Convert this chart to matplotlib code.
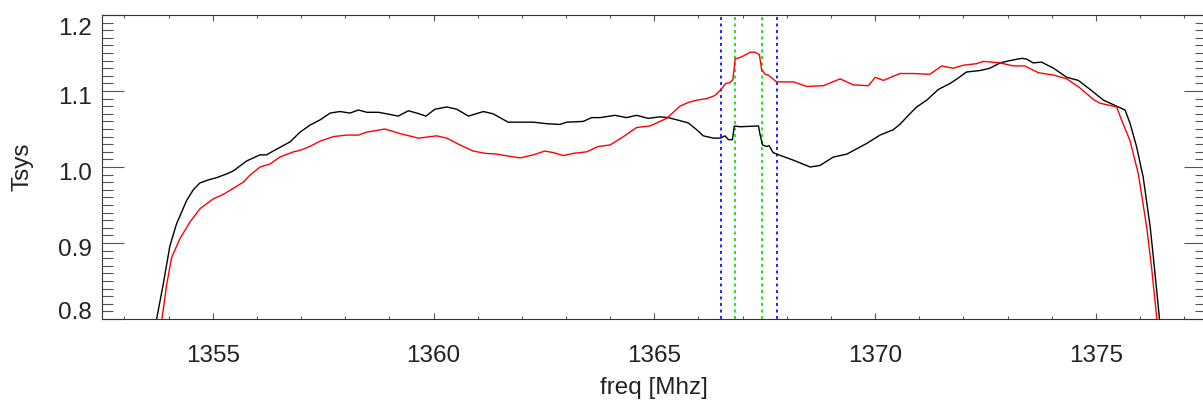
import numpy as np
import matplotlib.pyplot as plt
import matplotlib.transforms as mtransforms
from matplotlib.ticker import MultipleLocator

# Tsys bandpass, polarisation 1 (black)
freq_black = [1353.57, 1353.73, 1353.88, 1354.03, 1354.18, 1354.41, 1354.56, 1354.71,
              1354.90, 1355.09, 1355.32, 1355.47, 1355.77, 1356.07, 1356.22, 1356.37,
              1356.75, 1356.98, 1357.20, 1357.43, 1357.66, 1357.88, 1358.11, 1358.30,
              1358.49, 1358.75, 1358.94, 1359.20, 1359.43, 1359.62, 1359.83, 1360.03,
              1360.30, 1360.53, 1360.79, 1361.13, 1361.35, 1361.69, 1362.26, 1362.56,
              1362.86, 1363.02, 1363.39, 1363.58, 1363.77, 1364.11, 1364.37, 1364.60,
              1364.86, 1365.13, 1365.32, 1365.58, 1365.77, 1365.96, 1366.11, 1366.34,
              1366.50, 1366.60, 1366.68, 1366.77, 1366.81, 1366.94, 1367.36, 1367.39,
              1367.45, 1367.55, 1367.60, 1367.69, 1367.77, 1368.15, 1368.53, 1368.75,
              1369.05, 1369.36, 1369.81, 1370.11, 1370.41, 1370.56, 1370.72, 1370.94,
              1371.17, 1371.43, 1371.70, 1371.88, 1372.07, 1372.38, 1372.60, 1372.83,
              1373.05, 1373.32, 1373.43, 1373.58, 1373.77, 1374.04, 1374.34, 1374.60,
              1374.87, 1375.17, 1375.47, 1375.66, 1375.77, 1375.92, 1376.07, 1376.23,
              1376.34, 1376.44, 1376.50]
tsys_black = [0.749, 0.800, 0.846, 0.896, 0.925, 0.956, 0.970, 0.979,
              0.983, 0.986, 0.991, 0.995, 1.008, 1.016, 1.016, 1.021,
              1.033, 1.046, 1.055, 1.062, 1.071, 1.073, 1.071, 1.075,
              1.072, 1.072, 1.070, 1.067, 1.074, 1.071, 1.067, 1.076,
              1.079, 1.076, 1.067, 1.073, 1.070, 1.059, 1.059, 1.057,
              1.056, 1.059, 1.060, 1.065, 1.065, 1.068, 1.065, 1.068,
              1.064, 1.066, 1.065, 1.061, 1.058, 1.049, 1.041, 1.038,
              1.038, 1.041, 1.036, 1.036, 1.054, 1.053, 1.054, 1.044,
              1.029, 1.027, 1.028, 1.019, 1.017, 1.009, 1.000, 1.002,
              1.013, 1.017, 1.031, 1.042, 1.049, 1.056, 1.066, 1.079,
              1.088, 1.102, 1.110, 1.117, 1.125, 1.127, 1.130, 1.137,
              1.140, 1.143, 1.142, 1.137, 1.138, 1.130, 1.118, 1.114,
              1.102, 1.088, 1.080, 1.075, 1.058, 1.027, 0.987, 0.921,
              0.859, 0.800, 0.749]

# Tsys bandpass, polarisation 2 (red)
freq_red = [1353.72, 1353.85, 1353.96, 1354.07, 1354.26, 1354.49, 1354.71, 1355.01,
            1355.24, 1355.47, 1355.69, 1355.84, 1356.07, 1356.30, 1356.52, 1356.83,
            1356.98, 1357.20, 1357.43, 1357.73, 1358.03, 1358.30, 1358.49, 1358.90,
            1359.24, 1359.66, 1360.07, 1360.30, 1360.60, 1360.90, 1361.17, 1361.43,
            1361.73, 1361.96, 1362.26, 1362.52, 1362.71, 1362.94, 1363.17, 1363.47,
            1363.73, 1364.00, 1364.30, 1364.60, 1364.90, 1365.28, 1365.58, 1365.77,
            1365.96, 1366.19, 1366.37, 1366.51, 1366.62, 1366.71, 1366.78, 1366.83,
            1366.98, 1367.17, 1367.28, 1367.38, 1367.43, 1367.51, 1367.58, 1367.77,
            1368.15, 1368.45, 1368.83, 1369.21, 1369.51, 1369.85, 1370.00, 1370.19,
            1370.56, 1370.87, 1371.24, 1371.51, 1371.77, 1372.00, 1372.30, 1372.45,
            1372.83, 1373.13, 1373.39, 1373.70, 1374.04, 1374.34, 1374.64, 1374.94,
            1375.09, 1375.47, 1375.58, 1375.77, 1375.96, 1376.15, 1376.26, 1376.38,
            1376.44]
tsys_red = [0.749, 0.800, 0.846, 0.881, 0.906, 0.928, 0.945, 0.958,
            0.964, 0.972, 0.980, 0.989, 1.000, 1.004, 1.013, 1.020,
            1.022, 1.027, 1.034, 1.040, 1.042, 1.042, 1.046, 1.050,
            1.044, 1.038, 1.041, 1.038, 1.029, 1.021, 1.018, 1.017,
            1.014, 1.012, 1.016, 1.021, 1.019, 1.015, 1.018, 1.020,
            1.027, 1.029, 1.040, 1.052, 1.054, 1.064, 1.080, 1.085,
            1.088, 1.090, 1.094, 1.102, 1.110, 1.111, 1.115, 1.142,
            1.145, 1.151, 1.151, 1.148, 1.128, 1.122, 1.121, 1.112,
            1.112, 1.106, 1.107, 1.116, 1.108, 1.107, 1.118, 1.114,
            1.123, 1.123, 1.122, 1.133, 1.130, 1.134, 1.136, 1.139,
            1.137, 1.133, 1.133, 1.124, 1.121, 1.116, 1.104, 1.089,
            1.084, 1.079, 1.062, 1.035, 0.991, 0.921, 0.868, 0.800,
            0.749]

# window markers
outer_lines = [1366.51, 1367.77]
inner_lines = [1366.82, 1367.45]

plt.rcParams['font.family'] = ['Liberation Sans', 'DejaVu Sans']
txt_col = '#222222'
fs = 17.5

fig = plt.figure(figsize=(12.03, 4.07), dpi=100)
ax = fig.add_axes([0.08504, 0.2162, 0.91771, 0.7469])

for x in outer_lines:
    ax.axvline(x, color='#0000ff', lw=1.2, ls=(0, (1.8, 2.1)))
for x in inner_lines:
    ax.axvline(x, color='#00dd00', lw=1.2, ls=(0, (1.8, 2.1)))
ax.plot(freq_black, tsys_black, color='black', lw=1.0)
ax.plot(freq_red, tsys_red, color='#ff0000', lw=1.0)

ax.set_xlim(1352.5, 1377.5)
ax.set_ylim(0.8, 1.2)
ax.xaxis.set_major_locator(MultipleLocator(5))
ax.xaxis.set_minor_locator(MultipleLocator(1))
ax.set_yticks([0.8, 0.9, 1.0, 1.1, 1.2])
ax.set_yticklabels(['0.8', '0.9', '1.0', '1.1', '1.2'])
ax.yaxis.set_minor_locator(MultipleLocator(0.01))

ax.tick_params(axis='both', which='both', direction='in', color='#555555',
               width=0.8, labelsize=fs, labelcolor=txt_col)
ax.tick_params(axis='x', which='both', top=True, pad=18.7)
ax.tick_params(axis='x', which='major', length=4.3)
ax.tick_params(axis='x', which='minor', length=2.2)
ax.tick_params(axis='y', which='both', right=True, pad=7.4)
ax.tick_params(axis='y', which='major', length=15.6)
ax.tick_params(axis='y', which='minor', length=8)

for sp in ax.spines.values():
    sp.set_color('#333333')
    sp.set_linewidth(0.8)

# IDL-like placement of the y tick labels
for lab, dy in zip(ax.get_yticklabels(), [0, -13, -13, -13, -20]):
    lab.set_verticalalignment('baseline')
    lab.set_transform(lab.get_transform() +
                      mtransforms.ScaledTranslation(0, dy / 100, fig.dpi_scale_trans))

ax.set_xlabel('freq [Mhz]', fontsize=fs, color=txt_col)
ax.xaxis.set_label_coords(0.5, -0.191)
ax.set_ylabel('Tsys', fontsize=fs, color=txt_col)
ax.yaxis.set_label_coords(-0.062, 0.5)

fig.savefig('out.png', dpi=100)
